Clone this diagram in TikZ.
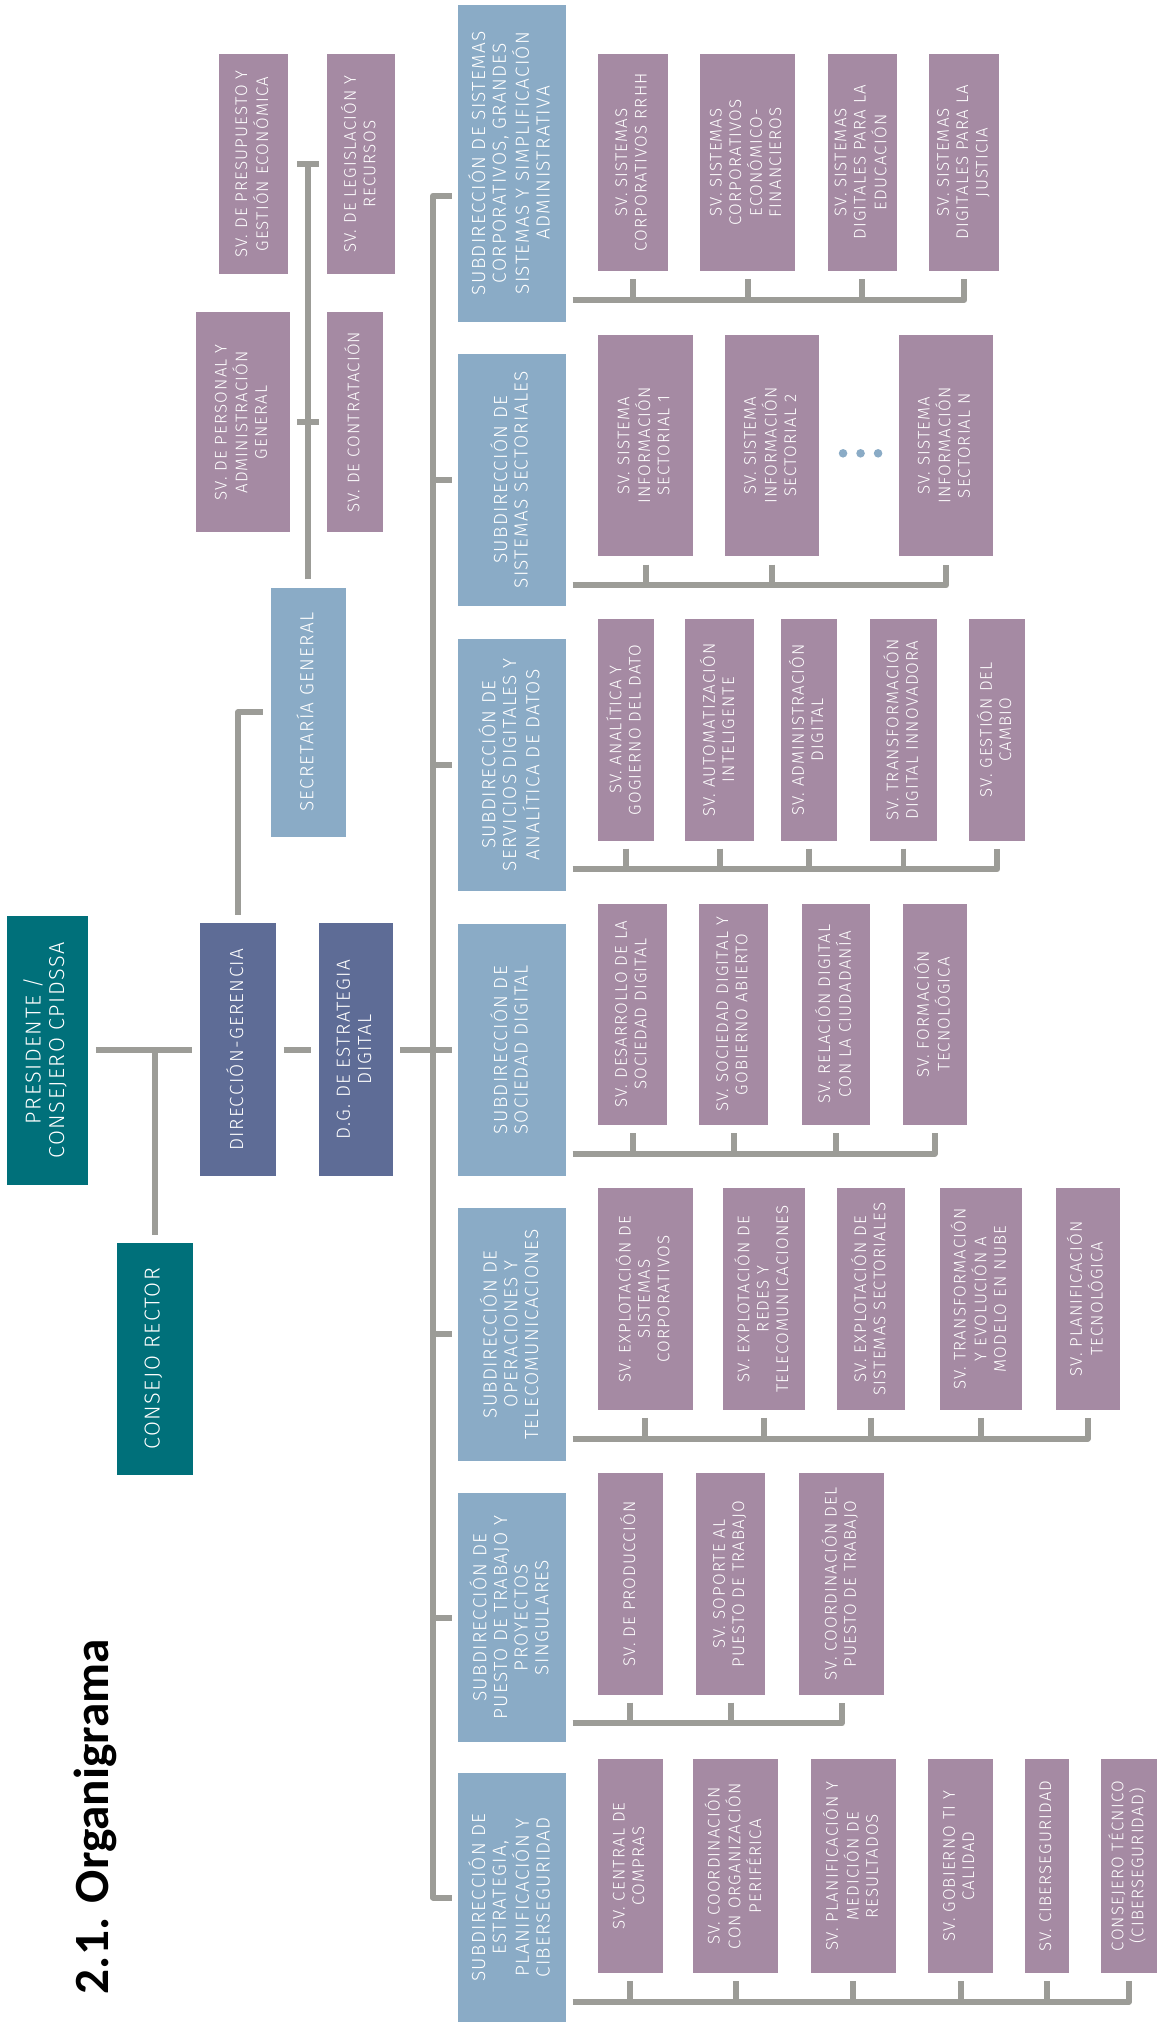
\documentclass[tikz,border=0pt]{standalone}
\usepackage{fontspec}
\usetikzlibrary{calc}
\newfontfamily\boxfont{Fira Sans Light}[LetterSpace=7]
\newfontfamily\titlefont{Carlito}
\definecolor{tealbox}{HTML}{00707A}
\definecolor{darkblue}{HTML}{5E6C96}
\definecolor{lightblue}{HTML}{8AABC6}
\definecolor{mauve}{HTML}{A58AA3}
\definecolor{linegray}{HTML}{9C9C97}
\newlength{\U}
\setlength{\U}{0.02594cm}
\newcommand{\orgnode}[7]{\node[#2, minimum width={(#5-#3)*\U}, minimum height={(#6-#4)*\U}] (#1) at ({(#3+#5)/2},{(#4+#6)/2}) {\rotatebox{90}{\begin{tabular}{@{}c@{}}#7\end{tabular}}};}

\tikzset{
  conn/.style={draw=linegray, line width=3.4pt, line join=round},
  orgbox/.style={fill=#1, text=white, inner sep=0pt},
  svbox/.style={orgbox=mauve, font=\boxfont\fontsize{9.6}{11}\selectfont},
  subbox/.style={orgbox=lightblue, font=\boxfont\fontsize{10.8}{11.8}\selectfont},
  dirbox/.style={orgbox=darkblue, font=\boxfont\fontsize{10.8}{12.2}\selectfont},
  govbox/.style={orgbox=tealbox, font=\boxfont\fontsize{12.3}{13.4}\selectfont}
}

\begin{document}
\begin{tikzpicture}[x=\U, y=-\U]

    \fill[white] (0,0) rectangle (895.1,1569);
    \useasboundingbox (0,0) rectangle (895.1,1569);

    \node[rotate=90, anchor=base, font=\titlefont\bfseries\fontsize{28}{30}\selectfont] (title) at (83.5,1400.6) {2.1. Organigrama};

    \orgnode{pres}{govbox}{5.1}{706}{67.6}{913.8}{PRESIDENTE /\\CONSEJERO CPIDSSA}
    \orgnode{rector}{govbox}{90.5}{958.2}{148.5}{1137}{CONSEJO RECTOR}
    \orgnode{dir}{dirbox}{154.5}{711.6}{212.5}{906.8}{DIRECCIÓN-GERENCIA}
    \orgnode{dg}{dirbox}{246}{711.6}{303.3}{906.8}{D.G. DE ESTRATEGIA\\DIGITAL}
    \orgnode{sec}{subbox}{208.7}{453}{266.5}{645.5}{SECRETARÍA GENERAL}

    \orgnode{sv1}{svbox}{169}{41.6}{222.3}{211.5}{SV. DE PRESUPUESTO Y\\GESTIÓN ECONÓMICA}
    \orgnode{sv2}{svbox}{251.9}{41.6}{304.8}{211.5}{SV. DE LEGISLACIÓN Y\\RECURSOS}
    \orgnode{sv3}{svbox}{150.9}{240.8}{223.6}{410.4}{SV. DE PERSONAL Y\\ADMINISTRACIÓN\\GENERAL}
    \orgnode{sv4}{svbox}{251.9}{240.8}{295}{410.4}{SV. DE CONTRATACIÓN}

    \orgnode{s1}{subbox}{353.4}{3.5}{436.2}{248}{SUBDIRECCIÓN DE SISTEMAS\\CORPORATIVOS, GRANDES\\SISTEMAS Y SIMPLIFICACIÓN\\ADMINISTRATIVA}
    \orgnode{c11}{svbox}{461.4}{41.4}{514.7}{208.9}{SV. SISTEMAS\\CORPORATIVOS RRHH}
    \orgnode{c12}{svbox}{539.6}{41.4}{613.1}{208.9}{SV. SISTEMAS\\CORPORATIVOS\\ECONÓMICO-\\FINANCIEROS}
    \orgnode{c13}{svbox}{638.3}{41.4}{691.6}{208.9}{SV. SISTEMAS\\DIGITALES PARA LA\\EDUCACIÓN}
    \orgnode{c14}{svbox}{716.5}{41.4}{770.5}{208.9}{SV. SISTEMAS\\DIGITALES PARA LA\\JUSTICIA}

    \orgnode{s2}{subbox}{353.4}{273}{436.2}{467}{SUBDIRECCIÓN DE\\SISTEMAS SECTORIALES}
    \orgnode{c21}{svbox}{461.4}{258}{534}{429}{SV. SISTEMA\\INFORMACIÓN\\SECTORIAL 1}
    \orgnode{c22}{svbox}{559}{258}{631.6}{429}{SV. SISTEMA\\INFORMACIÓN\\SECTORIAL 2}
    \orgnode{c23}{svbox}{693}{258}{765.5}{429}{SV. SISTEMA\\INFORMACIÓN\\SECTORIAL N}
    \foreach \x in {650,663.5,677}
        \fill[lightblue] (\x,349.5) circle[radius=3.3];

    \orgnode{s3}{subbox}{353.4}{492.4}{436.2}{687}{SUBDIRECCIÓN DE\\SERVICIOS DIGITALES Y\\ANALÍTICA DE DATOS}
    \orgnode{c31}{svbox}{461.4}{477.3}{504.4}{648.1}{SV. ANALÍTICA Y\\GOGIERNO DEL DATO}
    \orgnode{c32}{svbox}{528.5}{477.3}{581.5}{648.1}{SV. AUTOMATIZACIÓN\\INTELIGENTE}
    \orgnode{c33}{svbox}{602}{477.3}{645.4}{648.1}{SV. ADMINISTRACIÓN\\DIGITAL}
    \orgnode{c34}{svbox}{671}{477.3}{722.2}{648.1}{SV. TRANSFORMACIÓN\\DIGITAL INNOVADORA}
    \orgnode{c35}{svbox}{747}{477.3}{790.3}{648.1}{SV. GESTIÓN DEL\\CAMBIO}

    \orgnode{s4}{subbox}{353.4}{712.5}{436.2}{906.6}{SUBDIRECCIÓN DE\\SOCIEDAD DIGITAL}
    \orgnode{c41}{svbox}{461.4}{696.8}{514.3}{867.3}{SV. DESARROLLO DE LA\\SOCIEDAD DIGITAL}
    \orgnode{c42}{svbox}{539.2}{696.8}{592.5}{867.3}{SV. SOCIEDAD DIGITAL Y\\GOBIERNO ABIERTO}
    \orgnode{c43}{svbox}{618.1}{696.8}{671}{867.3}{SV. RELACIÓN DIGITAL\\CON LA CIUDADANÍA}
    \orgnode{c44}{svbox}{695.9}{696.8}{745.2}{867.3}{SV. FORMACIÓN\\TECNOLÓGICA}

    \orgnode{s5}{subbox}{353.4}{931.3}{436.2}{1126.3}{SUBDIRECCIÓN DE\\OPERACIONES Y\\TELECOMUNICACIONES}
    \orgnode{c51}{svbox}{461}{916}{534.2}{1087}{SV. EXPLOTACIÓN DE\\SISTEMAS\\CORPORATIVOS}
    \orgnode{c52}{svbox}{557.7}{916}{620.6}{1087}{SV. EXPLOTACIÓN DE\\REDES Y\\TELECOMUNICACIONES}
    \orgnode{c53}{svbox}{645.4}{916}{698}{1087}{SV. EXPLOTACIÓN DE\\SISTEMAS SECTORIALES}
    \orgnode{c54}{svbox}{725}{916}{787.9}{1087}{SV. TRANSFORMACIÓN\\Y EVOLUCIÓN A\\MODELO EN NUBE}
    \orgnode{c55}{svbox}{813.8}{916}{863.2}{1087}{SV. PLANIFICACIÓN\\TECNOLÓGICA}

    \orgnode{s6}{subbox}{353.4}{1151.4}{436.2}{1343}{SUBDIRECCIÓN DE\\PUESTO DE TRABAJO Y\\PROYECTOS\\SINGULARES}
    \orgnode{c61}{svbox}{461.4}{1135.8}{510.8}{1306.5}{SV. DE PRODUCCIÓN}
    \orgnode{c62}{svbox}{536.7}{1135.8}{590}{1306.5}{SV. SOPORTE AL\\PUESTO DE TRABAJO}
    \orgnode{c63}{svbox}{616.3}{1135.8}{681.6}{1306.5}{SV. COORDINACIÓN DEL\\PUESTO DE TRABAJO}

    \orgnode{s7}{subbox}{353.4}{1367}{436.2}{1559}{SUBDIRECCIÓN DE\\ESTRATEGIA,\\PLANIFICACIÓN Y\\CIBERSEGURIDAD}
    \orgnode{c71}{svbox}{461.4}{1356.5}{510.8}{1521.1}{SV. CENTRAL DE\\COMPRAS}
    \orgnode{c72}{svbox}{534.6}{1356.5}{600}{1521.1}{SV. COORDINACIÓN\\CON ORGANIZACIÓN\\PERIFÉRICA}
    \orgnode{c73}{svbox}{625.2}{1356.5}{690.5}{1521.1}{SV. PLANIFICACIÓN Y\\MEDICIÓN DE\\RESULTADOS}
    \orgnode{c74}{svbox}{715.8}{1356.5}{765.5}{1521.1}{SV. GOBIERNO TI Y\\CALIDAD}
    \orgnode{c75}{svbox}{790.4}{1356.5}{824.5}{1521.1}{SV. CIBERSEGURIDAD}
    \orgnode{c76}{svbox}{848.6}{1356.5}{892}{1521.1}{CONSEJERO TÉCNICO\\(CIBERSEGURIDAD)}

    \draw[conn] ($(pres.east)+(6,0)$) -- ($(pres.east -| dir.west)+(-6,0)$);
    \draw[conn] ($(rector.north)+(0,-6)$) -- (rector.north |- pres.east);
    \draw[conn] ($(dir.east)+(6,0)$) -- ($(dir.east -| dg.west)+(-6,0)$);
    \draw[conn] ($(dir.north)+(0,-6)$) |- ($(sec.west)+(-6,0)$);
    \draw[conn] ($(sec.north)+(0,-6)$) -- (sec.north |- sv1.east);
    \draw[conn] ($(sec.north |- sv1.east)+(-8.5,0)$) -- ++(17,0);
    \draw[conn] ($(sec.north |- sv3.east)+(-8.5,0)$) -- ++(17,0);

    \coordinate (spine) at (334,0);
    \draw[conn] ($(s1.west)+(-5,25)$) -| (spine |- s7.west) -- ($(s7.west)+(-5,0)$);
    \draw[conn] ($(dg.east)+(5,0)$) -- ($(dg.east -| s4.west)+(-5,0)$);
    \foreach \s in {s2,s3,s5,s6}
        \draw[conn] (spine |- \s.west) -- ($(\s.west)+(-5,0)$);

    \foreach \s/\first/\last/\kids in {s1/c11/c14/{c11,c12,c13},
                                      s2/c21/c23/{c21,c22},
                                      s3/c31/c35/{c31,c32,c33,c34},
                                      s4/c41/c44/{c41,c42,c43},
                                      s5/c51/c55/{c51,c52,c53,c54},
                                      s6/c61/c63/{c61,c62},
                                      s7/c71/c76/{c71,c72,c73,c74,c75}} {
        \coordinate (bar) at ($(\s.east |- \first.south)+(5,22)$);
        \foreach \k in \kids
            \draw[conn] ($(\k.south)+(0,6)$) -- (\k.south |- bar);
        \draw[conn] (bar) -- (bar -| \last.south) -- ($(\last.south)+(0,6)$);
    }

\end{tikzpicture}
\end{document}
